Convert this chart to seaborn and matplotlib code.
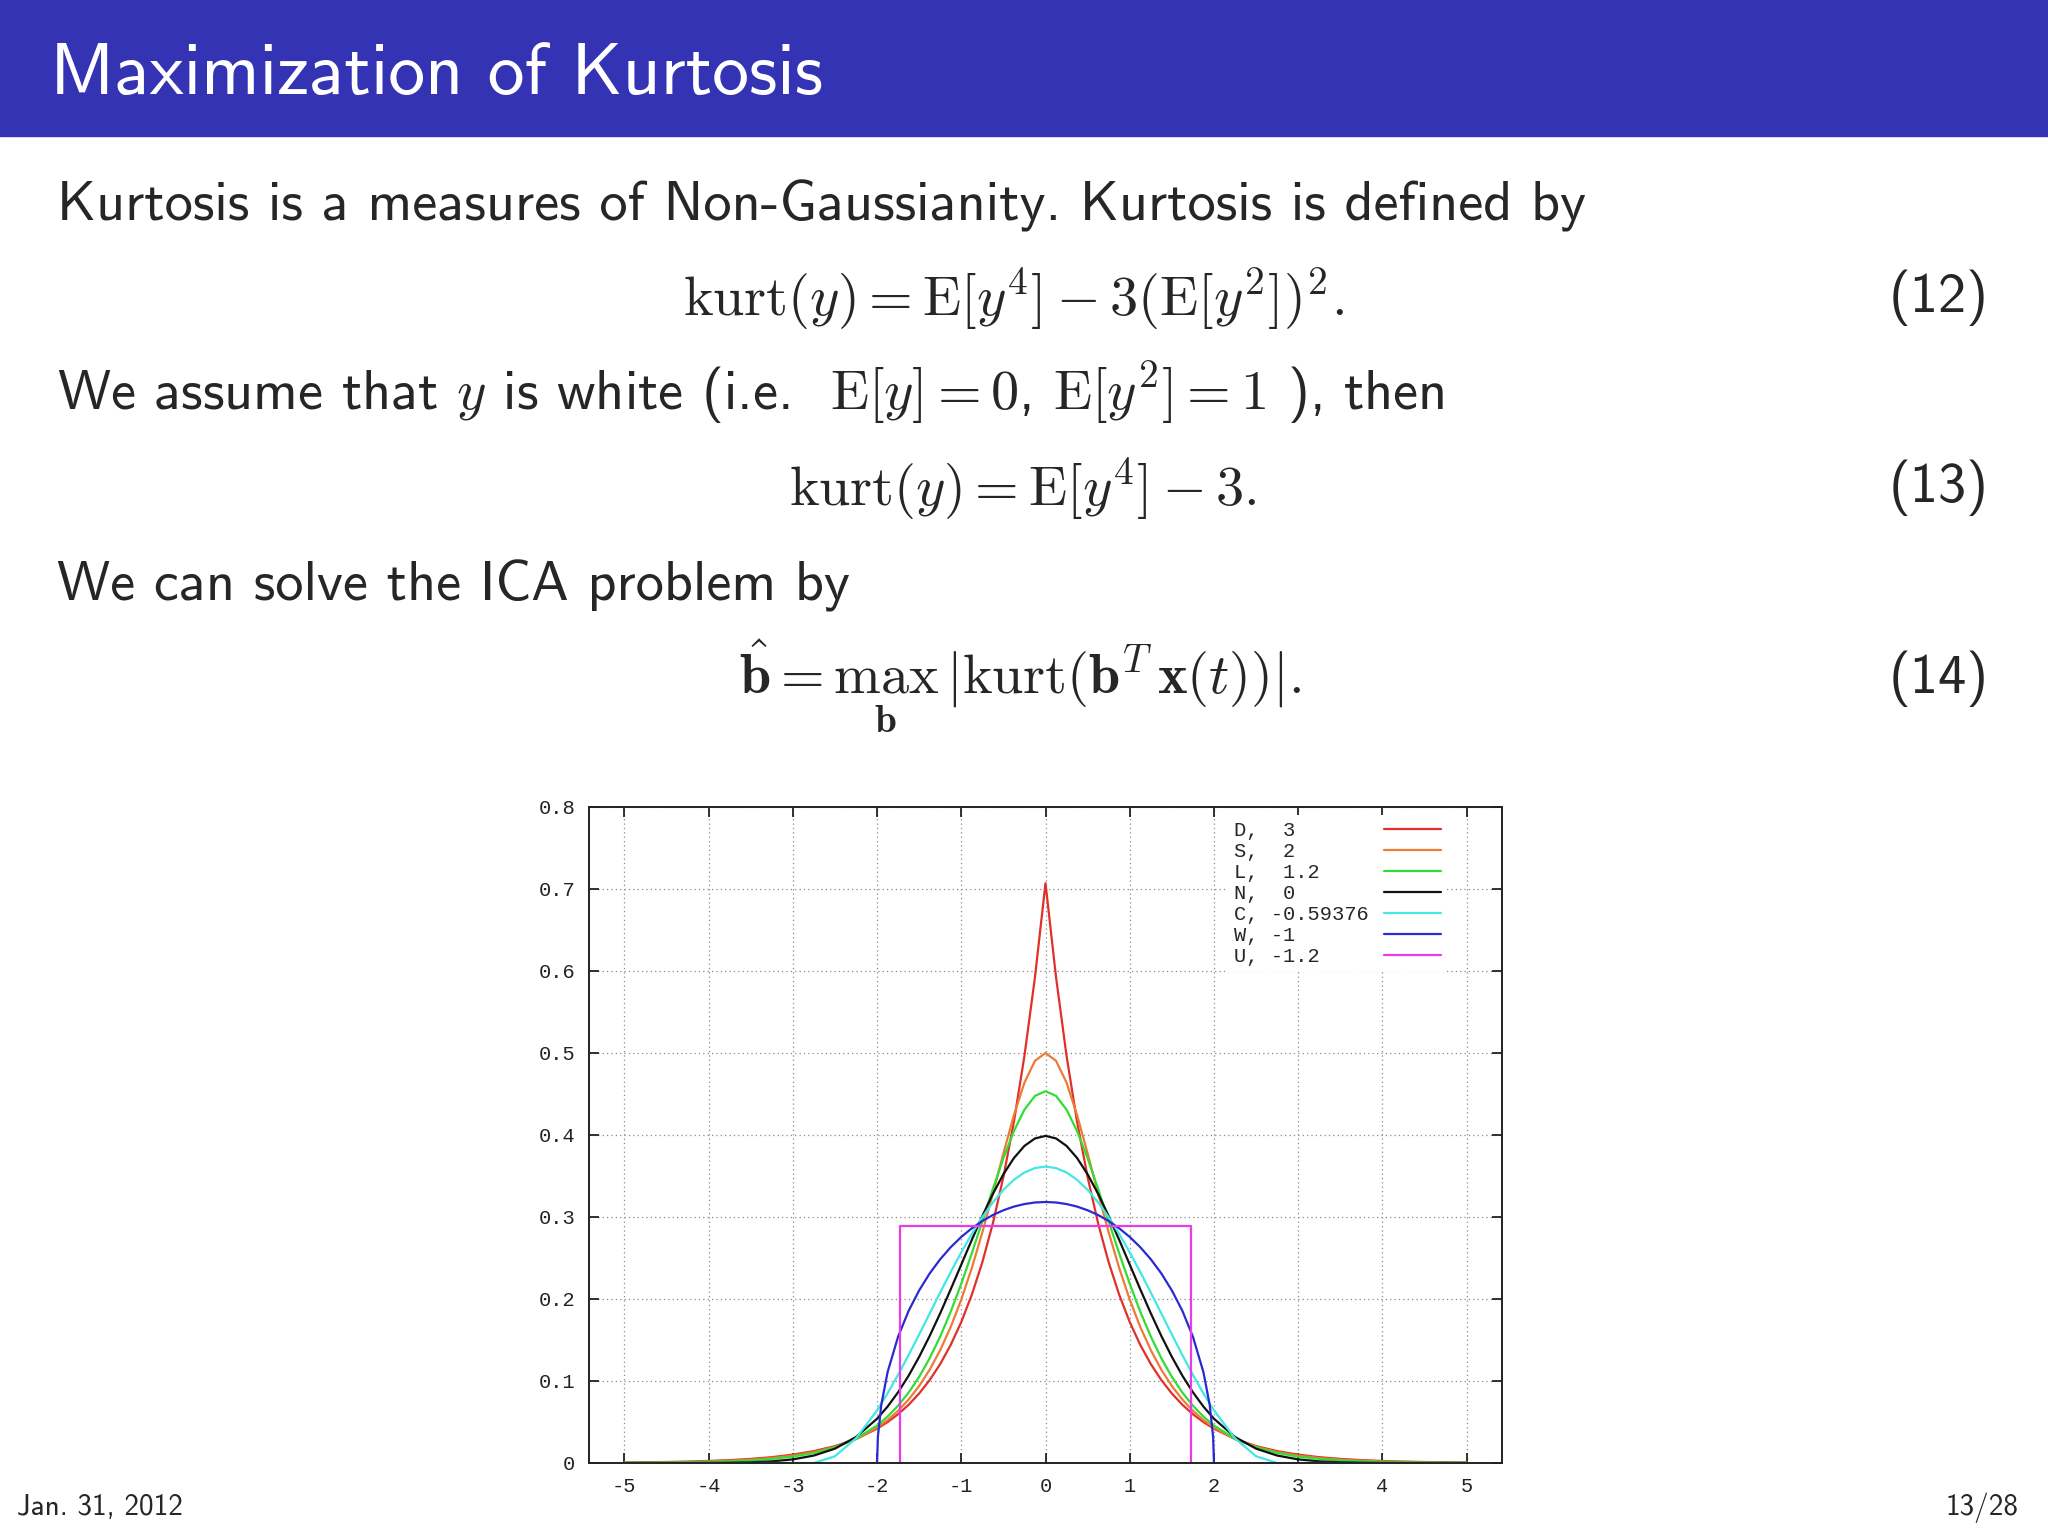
import seaborn as sns
import matplotlib.pyplot as plt
from matplotlib.patches import Rectangle

# sample positions for the smooth densities
x_grid = [-5.0, -4.75, -4.5, -4.25, -4.0, -3.75, -3.5, -3.25, -3.0, -2.75, -2.5, -2.25, -2.0,
          -1.875, -1.75, -1.625, -1.5, -1.375, -1.25, -1.125, -1.0, -0.875, -0.75, -0.625,
          -0.5, -0.375, -0.25, -0.125,
          0.0,
          0.125, 0.25, 0.375, 0.5, 0.625, 0.75, 0.875, 1.0, 1.125, 1.25, 1.375, 1.5, 1.625,
          1.75, 1.875,
          2.0, 2.25, 2.5, 2.75, 3.0, 3.25, 3.5, 3.75, 4.0, 4.25, 4.5, 4.75, 5.0]

# D: Laplace
dens_d = [0.0006, 0.0009, 0.0012, 0.0017, 0.0025, 0.0035, 0.0050, 0.0071, 0.0102, 0.0145, 0.0206, 0.0293, 0.0418,
          0.0499, 0.0595, 0.0710, 0.0848, 0.1012, 0.1207, 0.1441, 0.1719, 0.2052, 0.2448, 0.2922,
          0.3487, 0.4161, 0.4965, 0.5925,
          0.7071,
          0.5925, 0.4965, 0.4161, 0.3487, 0.2922, 0.2448, 0.2052, 0.1719, 0.1441, 0.1207, 0.1012, 0.0848, 0.0710,
          0.0595, 0.0499,
          0.0418, 0.0293, 0.0206, 0.0145, 0.0102, 0.0071, 0.0050, 0.0035, 0.0025, 0.0017, 0.0012, 0.0009, 0.0006]

# S: hyperbolic secant
dens_s = [0.0004, 0.0006, 0.0009, 0.0013, 0.0019, 0.0028, 0.0041, 0.0061, 0.0090, 0.0133, 0.0197, 0.0292, 0.0431,
          0.0524, 0.0637, 0.0774, 0.0939, 0.1138, 0.1377, 0.1660, 0.1993, 0.2378, 0.2812, 0.3285,
          0.3775, 0.4242, 0.4638, 0.4905,
          0.5000,
          0.4905, 0.4638, 0.4242, 0.3775, 0.3285, 0.2812, 0.2378, 0.1993, 0.1660, 0.1377, 0.1138, 0.0939, 0.0774,
          0.0637, 0.0524,
          0.0431, 0.0292, 0.0197, 0.0133, 0.0090, 0.0061, 0.0041, 0.0028, 0.0019, 0.0013, 0.0009, 0.0006, 0.0004]

# L: logistic
dens_l = [0.0002, 0.0003, 0.0005, 0.0008, 0.0013, 0.0020, 0.0032, 0.0050, 0.0078, 0.0122, 0.0191, 0.0296, 0.0457,
          0.0566, 0.0699, 0.0859, 0.1051, 0.1278, 0.1543, 0.1846, 0.2186, 0.2557, 0.2947, 0.3341,
          0.3717, 0.4048, 0.4309, 0.4477,
          0.4534,
          0.4477, 0.4309, 0.4048, 0.3717, 0.3341, 0.2947, 0.2557, 0.2186, 0.1846, 0.1543, 0.1278, 0.1051, 0.0859,
          0.0699, 0.0566,
          0.0457, 0.0296, 0.0191, 0.0122, 0.0078, 0.0050, 0.0032, 0.0020, 0.0013, 0.0008, 0.0005, 0.0003, 0.0002]

# N: normal
dens_n = [0.0000, 0.0000, 0.0000, 0.0000, 0.0001, 0.0004, 0.0009, 0.0020, 0.0044, 0.0091, 0.0175, 0.0317, 0.0540,
          0.0688, 0.0863, 0.1065, 0.1295, 0.1550, 0.1826, 0.2119, 0.2420, 0.2721, 0.3011, 0.3282,
          0.3521, 0.3719, 0.3867, 0.3958,
          0.3989,
          0.3958, 0.3867, 0.3719, 0.3521, 0.3282, 0.3011, 0.2721, 0.2420, 0.2119, 0.1826, 0.1550, 0.1295, 0.1065,
          0.0863, 0.0688,
          0.0540, 0.0317, 0.0175, 0.0091, 0.0044, 0.0020, 0.0009, 0.0004, 0.0001, 0.0000, 0.0000, 0.0000, 0.0000]

# C: raised cosine
dens_c = [0.0, 0.0, 0.0, 0.0, 0.0, 0.0, 0.0, 0.0, 0.0, 0.0, 0.0082, 0.0301, 0.0642,
          0.0849, 0.1076, 0.1317, 0.1568, 0.1824, 0.2080, 0.2330, 0.2569, 0.2794, 0.2998, 0.3178,
          0.3331, 0.3454, 0.3543, 0.3597,
          0.3615,
          0.3597, 0.3543, 0.3454, 0.3331, 0.3178, 0.2998, 0.2794, 0.2569, 0.2330, 0.2080, 0.1824, 0.1568, 0.1317,
          0.1076, 0.0849,
          0.0642, 0.0301, 0.0082, 0.0, 0.0, 0.0, 0.0, 0.0, 0.0, 0.0, 0.0, 0.0, 0.0]

# W: Wigner semicircle
x_semi = [-2.0, -1.99, -1.95, -1.875, -1.75, -1.625, -1.5, -1.375, -1.25, -1.125, -1.0, -0.875, -0.75,
          -0.625, -0.5, -0.375, -0.25, -0.125, 0.0, 0.125, 0.25, 0.375, 0.5, 0.625, 0.75, 0.875, 1.0,
          1.125, 1.25, 1.375, 1.5, 1.625, 1.75, 1.875, 1.95, 1.99, 2.0]
dens_w = [0.0, 0.0318, 0.0707, 0.1108, 0.1541, 0.1856, 0.2105, 0.2312, 0.2485, 0.2632, 0.2757, 0.2862, 0.2951,
          0.3024, 0.3082, 0.3127, 0.3158, 0.3177, 0.3183, 0.3177, 0.3158, 0.3127, 0.3082, 0.3024, 0.2951, 0.2862,
          0.2757, 0.2632, 0.2485, 0.2312, 0.2105, 0.1856, 0.1541, 0.1108, 0.0707, 0.0318, 0.0]

# U: uniform
x_unif = [-1.7321, -1.7321, 1.7321, 1.7321]
dens_u = [0.0, 0.2887, 0.2887, 0.0]

legend_labels = ["D,  3", "S,  2", "L,  1.2", "N,  0", "C, -0.59376", "W, -1", "U, -1.2"]
line_colors = ["#e0302a", "#ee7a38", "#33dd33", "#111111", "#44e6e6", "#2a2ad2", "#e83ce8"]

x_ticks = [-5, -4, -3, -2, -1, 0, 1, 2, 3, 4, 5]
x_tick_labels = ["-5", "-4", "-3", "-2", "-1", "0", "1", "2", "3", "4", "5"]
y_ticks = [0, 0.1, 0.2, 0.3, 0.4, 0.5, 0.6, 0.7, 0.8]
y_tick_labels = ["0", "0.1", "0.2", "0.3", "0.4", "0.5", "0.6", "0.7", "0.8"]

sns.set_style("ticks")
plt.rcParams['mathtext.fontset'] = 'cm'
plt.rcParams['font.family'] = ['cmss10', 'DejaVu Sans']
plt.rcParams['axes.unicode_minus'] = False

W, H = 2048, 1536
fig = plt.figure(figsize=(20.48, 15.36), dpi=100)


def fx(x):
    return x / W


def fy(y):
    return 1 - y / H


# beamer title bar
fig.add_artist(Rectangle((0, fy(136)), 1, 136 / H, transform=fig.transFigure,
                         color='#3333b3', zorder=0))
fig.text(fx(50), fy(94), 'Maximization of Kurtosis', color='white', fontsize=53, va='baseline')

body = 40.5
fig.text(fx(57), fy(221), 'Kurtosis is a measures of Non-Gaussianity. Kurtosis is defined by',
         fontsize=body, va='baseline')
fig.text(fx(1013), fy(316), r'$\mathrm{kurt}(y) = \mathrm{E}[y^4] - 3(\mathrm{E}[y^2])^2.$',
         fontsize=body, ha='center', va='baseline')
fig.text(fx(1989), fy(298), '(12)', fontsize=body, ha='right', va='center')

fig.text(fx(57), fy(410), r'We assume that $y$ is white (i.e.  $\mathrm{E}[y] = 0$, $\mathrm{E}[y^2] = 1$ ), then',
         fontsize=body, va='baseline')
fig.text(fx(1023), fy(506), r'$\mathrm{kurt}(y) = \mathrm{E}[y^4] - 3.$',
         fontsize=body, ha='center', va='baseline')
fig.text(fx(1989), fy(488), '(13)', fontsize=body, ha='right', va='center')

fig.text(fx(57), fy(600), 'We can solve the ICA problem by', fontsize=body, va='baseline')
fig.text(fx(1020), fy(694),
         r'$\hat{\mathbf{b}} = \max_{\mathbf{b}}\, |\mathrm{kurt}(\mathbf{b}^T \mathbf{x}(t))|.$',
         fontsize=body, ha='center', va='baseline')
fig.text(fx(1989), fy(679), '(14)', fontsize=body, ha='right', va='center')

fig.text(fx(17), fy(1515), 'Jan. 31, 2012', fontsize=21, va='baseline')
fig.text(fx(2018), fy(1515), '13/28', fontsize=21, ha='right', va='baseline')

# gnuplot style plot
ax = fig.add_axes([589 / W, 1 - 1463 / H, 913 / W, 656 / H])
series = [
    (x_grid, dens_d), (x_grid, dens_s), (x_grid, dens_l), (x_grid, dens_n),
    (x_grid, dens_c), (x_semi, dens_w), (x_unif, dens_u),
]
width = max(len(s) for s in legend_labels) + 1
for (xs, ys), lab, col in zip(series, legend_labels, line_colors):
    sns.lineplot(x=xs, y=ys, ax=ax, color=col, lw=1.6, estimator=None, sort=False,
                 label=lab.ljust(width))

ax.set_xlim(-5.42, 5.42)
ax.set_ylim(0, 0.8)
ax.set_xticks(x_ticks)
ax.set_xticklabels(x_tick_labels)
ax.set_yticks(y_ticks)
ax.set_yticklabels(y_tick_labels)
mono = {'family': 'Liberation Mono', 'size': 14.7}
for t in ax.get_xticklabels() + ax.get_yticklabels():
    t.set_fontfamily('Liberation Mono')
    t.set_fontsize(14.7)
ax.tick_params(direction='in', length=7, width=1.3, top=True, right=True, pad=10, colors='#222222')
ax.grid(True, ls=(0, (1, 2.5)), color='#8a8a8a', lw=0.9)
for sp in ax.spines.values():
    sp.set_visible(True)
    sp.set_linewidth(1.4)
    sp.set_color('#222222')
ax.set_xlabel('')
ax.set_ylabel('')

handles, labels = ax.get_legend_handles_labels()
ax.legend(handles, labels, loc='upper right', bbox_to_anchor=(0.940, 0.988), markerfirst=False,
          frameon=True, facecolor='white', edgecolor='none', framealpha=1, fancybox=False,
          prop=mono, handlelength=2.8, handletextpad=0.15, labelspacing=0.1,
          borderpad=0.3, borderaxespad=0)

fig.savefig('out.png', dpi=100)
